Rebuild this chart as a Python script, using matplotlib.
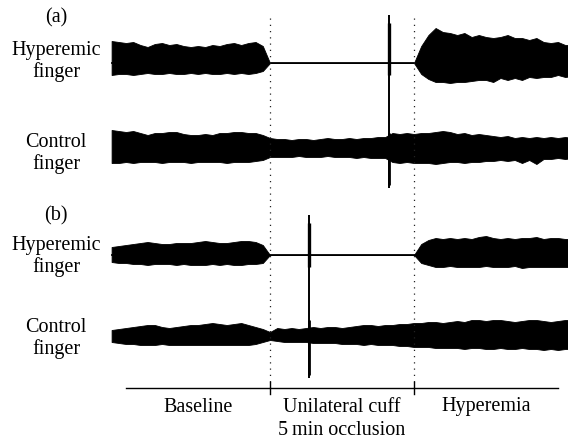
import numpy as np
import matplotlib
matplotlib.use("Agg")
import matplotlib.pyplot as plt

plt.rcParams['font.family'] = ['Liberation Serif', 'DejaVu Serif']

# ---------------- data (time in minutes, 0-5 = cuff occlusion) ----------------
t = np.arange(-5.5, 10.51, 0.25)          # sampling grid of the envelope readings

stages = [["Baseline"], ["Unilateral cuff", "5\u2009min occlusion"], ["Hyperemia"]]
stage_bounds = [-5, 0, 5, 10]
panel_tags = ["(a)", "(b)"]
trace_names = [["Hyperemic", "finger"], ["Control", "finger"]]

# envelope amplitude above / below the trace centre (arbitrary units)
# segments: baseline (23 pts, -5.5..0), occlusion (19 pts, 0.25..4.75), hyperemia (23 pts, 5..10.5)
hyp_a_up = ([22, 21, 20, 21, 18, 16, 19, 20, 18, 19, 17, 16, 17, 16, 18, 17, 19, 20, 18, 20, 21, 17, 0]
            + [0] * 19
            + [0, 17, 28, 35, 31, 30, 28, 30, 26, 28, 26, 25, 26, 28, 25, 25, 23, 25, 21, 20, 21, 18, 18])
hyp_a_lo = ([12, 11, 11, 12, 11, 10, 11, 11, 10, 11, 11, 10, 11, 10, 11, 11, 10, 11, 10, 11, 10, 8, 0]
            + [0] * 19
            + [0, 11, 16, 19, 19, 20, 19, 19, 18, 17, 17, 19, 15, 17, 15, 17, 14, 15, 14, 14, 12, 14, 13])
ctrl_a_up = ([18, 17, 16, 17, 15, 13, 15, 15, 16, 16, 14, 13, 13, 14, 13, 15, 15, 16, 16, 15, 15, 13, 10]
             + [9, 9, 8, 9, 9, 8, 9, 10, 9, 9, 10, 9, 10, 10, 11, 11, 15, 14, 15]
             + [14, 15, 15, 16, 17, 16, 14, 15, 13, 14, 13, 12, 11, 12, 10, 11, 10, 11, 10, 11, 10, 11, 10])
ctrl_a_lo = ([15, 15, 14, 15, 14, 14, 14, 15, 14, 14, 14, 15, 14, 14, 14, 14, 15, 14, 14, 14, 13, 12, 9]
             + [9, 9, 9, 8, 9, 9, 9, 8, 9, 9, 9, 10, 9, 10, 10, 10, 14, 15, 14]
             + [15, 15, 15, 16, 15, 14, 14, 15, 14, 14, 13, 13, 12, 13, 12, 15, 12, 16, 11, 11, 10, 11, 10])
hyp_b_up = ([8, 9, 10, 11, 12, 13, 12, 11, 11, 12, 12, 12, 13, 14, 13, 12, 12, 13, 14, 14, 13, 10, 0]
            + [0] * 19
            + [0, 11, 15, 17, 16, 17, 16, 17, 16, 18, 19, 17, 16, 17, 16, 17, 17, 18, 16, 17, 17, 16, 16])
hyp_b_lo = ([7, 8, 8, 9, 9, 10, 9, 9, 9, 10, 9, 10, 10, 10, 9, 10, 9, 10, 10, 9, 9, 8, 0]
            + [0] * 19
            + [0, 8, 10, 12, 12, 11, 12, 12, 12, 12, 11, 12, 12, 12, 11, 13, 12, 12, 12, 12, 12, 12, 12])
ctrl_b_up = ([5, 6, 7, 8, 9, 10, 10, 8, 7, 8, 9, 10, 10, 11, 12, 11, 10, 11, 12, 10, 8, 6, 3]
             + [7, 6, 7, 6, 7, 8, 7, 8, 8, 7, 8, 9, 10, 10, 9, 10, 10, 11, 11]
             + [12, 12, 13, 13, 12, 13, 14, 13, 15, 15, 14, 15, 15, 14, 13, 14, 15, 15, 14, 13, 14, 15, 15])
ctrl_b_lo = ([7, 8, 9, 9, 10, 10, 10, 9, 10, 10, 10, 10, 10, 10, 10, 10, 10, 10, 10, 10, 9, 7, 5]
             + [6, 7, 7, 7, 7, 8, 8, 8, 8, 9, 9, 9, 10, 9, 10, 10, 10, 11, 11]
             + [12, 12, 12, 13, 13, 13, 13, 14, 13, 13, 14, 14, 13, 14, 14, 13, 14, 14, 15, 14, 15, 14, 14])

# cuff artefact spikes: time, extent above hyperemic trace, extent below control trace
spike_time = [4.13, 1.35]
spike_up = [48, 40]
spike_down = [40, 43]

# ---------------- layout ----------------
W, H = 568, 442
PX_PER_MIN = 28.8
X0 = 270.0
fig = plt.figure(figsize=(W / 100, H / 100), dpi=100)
ax = fig.add_axes([0, 0, 1, 1])
ax.set_xlim(-X0 / PX_PER_MIN, (W - X0) / PX_PER_MIN)
ax.set_ylim(H, 0)
ax.axis('off')

centres = [[63, 148], [255, 335]]
envelopes = [[(hyp_a_up, hyp_a_lo), (ctrl_a_up, ctrl_a_lo)],
             [(hyp_b_up, hyp_b_lo), (ctrl_b_up, ctrl_b_lo)]]
tag_y = [22, 220]
name_y = [[55, 147], [250, 332]]
LINE = 22
label_x = (56 - X0) / PX_PER_MIN
fs = 14.5

for p in range(2):
    for k in range(2):
        c = centres[p][k]
        up, lo = envelopes[p][k]
        up = np.asarray(up, float)
        lo = np.asarray(lo, float)
        ax.fill_between(t, c - up, c + lo, color='black', lw=0.6, edgecolor='black')
        if k == 0:
            ax.plot(t, np.full_like(t, c), color='black', lw=1.3)
        for j, line in enumerate(trace_names[k]):
            ax.text(label_x, name_y[p][k] + j * LINE, line, ha='center', va='baseline',
                    fontsize=fs)
    ax.text(label_x, tag_y[p], panel_tags[p], ha='center', va='baseline', fontsize=fs)
    # spike
    ts = spike_time[p]
    top = centres[p][0] - spike_up[p]
    bot = centres[p][1] + spike_down[p]
    ax.plot([ts, ts], [top, bot], color='black', lw=1.4, solid_capstyle='butt')
    ax.plot([ts, ts], [top + 8, centres[p][0] + 12], color='black', lw=2.4, solid_capstyle='butt')
    ax.plot([ts, ts], [centres[p][1] - 15, bot - 3], color='black', lw=2.0, solid_capstyle='butt')

# dotted stage boundaries
for b in stage_bounds[1:3]:
    ax.plot([b, b], [18, 387], color='#222222', lw=0.9, ls=(0, (1, 4)))

# time axis
AX_Y = 387.5
ax.plot([stage_bounds[0], stage_bounds[-1]], [AX_Y, AX_Y], color='black', lw=1.0)
for b in stage_bounds[1:3]:
    ax.plot([b, b], [AX_Y - 6, AX_Y + 6], color='black', lw=1.0)
for i, s in enumerate(stages):
    xm = 0.5 * (stage_bounds[i] + stage_bounds[i + 1])
    for j, line in enumerate(s):
        ax.text(xm, 411.5 + j * 23.5, line, ha='center', va='baseline', fontsize=fs)

fig.savefig('out.png', dpi=100)
